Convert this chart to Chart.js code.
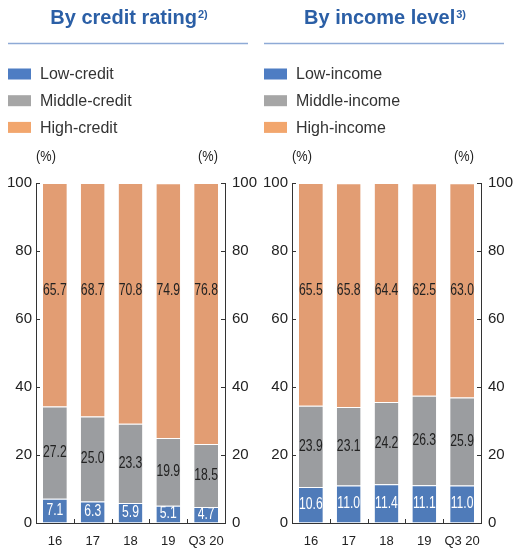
<!DOCTYPE html>
<html>
<head>
<meta charset="utf-8">
<script src="https://cdn.jsdelivr.net/npm/chart.js@4.4.1/dist/chart.umd.min.js"></script>
<style>
  html, body { margin: 0; padding: 0; background: #fff; }
  #wrap { position: relative; width: 516px; height: 555px; }
  canvas { position: absolute; top: 0; }
  #credit { left: 0; }
  #income { left: 256px; }
</style>
</head>
<body>
<div id="wrap">
  <canvas id="credit" width="260" height="555"></canvas>
  <canvas id="income" width="260" height="555"></canvas>
</div>
<script>
const years = ['16', '17', '18', '19', 'Q3 20'];

const lowCredit = [7.1, 6.3, 5.9, 5.1, 4.7];
const midCredit = [27.2, 25.0, 23.3, 19.9, 18.5];
const highCredit = [65.7, 68.7, 70.8, 74.9, 76.8];

const lowIncome = [10.6, 11.0, 11.4, 11.1, 11.0];
const midIncome = [23.9, 23.1, 24.2, 26.3, 25.9];
const highIncome = [65.5, 65.8, 64.4, 62.5, 63.0];

const SANS = "'Liberation Sans', Arial, sans-serif";

// bar colours / legend swatch colours
const BLUE = '#4f7bb9', GRAY = '#9b9da0', ORANGE = '#e29d73';
const BLUE_KEY = '#4e7dc3', GRAY_KEY = '#a6a6a6', ORANGE_KEY = '#f2a66d';

// no narrow font installed, so squeeze the small labels by hand
function narrowText(ctx, text, x, y, squeeze) {
    ctx.save();
    ctx.translate(x, y);
    ctx.scale(squeeze, 1);
    ctx.fillText(text, 0, 0);
    ctx.restore();
}

// title, rule, legend, (%) labels, inner ticks, value labels
const decor = {
    id: 'decor',
    afterDraw(chart, args, opts) {
        const ctx = chart.ctx;
        const area = chart.chartArea;
        const x = chart.scales.x, y = chart.scales.y;
        ctx.save();

        // title with superscript
        ctx.fillStyle = '#2b5fa6';
        ctx.font = 'bold 20px ' + SANS;
        const w1 = ctx.measureText(opts.title).width;
        ctx.font = 'bold 11px ' + SANS;
        const w2 = ctx.measureText(opts.note).width;
        const sx = 129 - (w1 + w2 + 1) / 2;
        ctx.textBaseline = 'alphabetic';
        ctx.textAlign = 'left';
        ctx.font = 'bold 20px ' + SANS;
        ctx.fillText(opts.title, sx, 24);
        ctx.font = 'bold 11px ' + SANS;
        ctx.fillText(opts.note, sx + w1 + 1, 18);

        // rule under title
        ctx.strokeStyle = '#8eaad6';
        ctx.lineWidth = 1.5;
        ctx.beginPath();
        ctx.moveTo(8, 43.5);
        ctx.lineTo(248, 43.5);
        ctx.stroke();

        // legend
        ctx.font = '16px ' + SANS;
        ctx.textBaseline = 'middle';
        chart.data.datasets.forEach((ds, i) => {
            const cy = 74 + i * 26.7;
            ctx.fillStyle = ds.keyColor;
            ctx.fillRect(8, cy - 5.5, 23, 11);
            ctx.fillStyle = '#333';
            ctx.fillText(ds.label, 40, cy + 1);
        });

        // unit labels
        ctx.font = '15px ' + SANS;
        ctx.fillStyle = '#222';
        ctx.textAlign = 'center';
        narrowText(ctx, '(%)', area.left + 10, 157, 0.85);
        narrowText(ctx, '(%)', area.right - 17, 157, 0.85);

        // inward tick marks
        ctx.strokeStyle = '#333';
        ctx.lineWidth = 1;
        ctx.beginPath();
        y.ticks.forEach(t => {
            const py = Math.round(y.getPixelForValue(t.value)) + 0.5;
            ctx.moveTo(area.left, py); ctx.lineTo(area.left + 4, py);
            ctx.moveTo(area.right - 4, py); ctx.lineTo(area.right, py);
        });
        for (let i = 1; i < years.length; i++) {
            const px = Math.round((x.getPixelForValue(i - 1) + x.getPixelForValue(i)) / 2) + 0.5;
            ctx.moveTo(px, area.bottom); ctx.lineTo(px, area.bottom - 4);
        }
        ctx.stroke();

        // value labels
        ctx.font = '16px ' + SANS;
        ctx.textBaseline = 'middle';
        ctx.textAlign = 'center';
        chart.data.datasets.forEach((ds, i) => {
            const meta = chart.getDatasetMeta(i);
            ctx.fillStyle = ds.textColor;
            meta.data.forEach((bar, j) => {
                const py = ds.labelAt != null ? y.getPixelForValue(ds.labelAt) : (bar.y + bar.base) / 2;
                narrowText(ctx, ds.data[j].toFixed(1), bar.x, py, 0.76);
            });
        });
        ctx.restore();
    }
};

function makeChart(id, title, note, names, low, mid, high) {
    const canvas = document.getElementById(id);
    return new Chart(canvas.getContext('2d'), {
        type: 'bar',
        data: {
            labels: years,
            datasets: [
                { label: names[0], data: low, backgroundColor: BLUE, keyColor: BLUE_KEY, textColor: '#fff' },
                { label: names[1], data: mid, backgroundColor: GRAY, keyColor: GRAY_KEY, textColor: '#222' },
                { label: names[2], data: high, backgroundColor: ORANGE, keyColor: ORANGE_KEY, textColor: '#222', labelAt: 68.5 }
            ].map(d => Object.assign(d, {
                categoryPercentage: 1,
                barPercentage: 0.63,
                borderWidth: { top: 1, left: 0, right: 0, bottom: 0 },
                borderColor: 'rgba(255,255,255,0.55)',
                borderSkipped: false
            }))
        },
        options: {
            responsive: false,
            animation: false,
            devicePixelRatio: 1,
            layout: { padding: { top: 183, left: 0, right: 0, bottom: 0 } },
            plugins: {
                legend: { display: false },
                tooltip: { enabled: false },
                decor: { title: title, note: note }
            },
            scales: {
                x: {
                    stacked: true,
                    grid: { display: true, drawOnChartArea: false, drawTicks: false },
                    border: { display: true, color: '#333', width: 1 },
                    ticks: { color: '#222', font: { family: SANS, size: 13 }, padding: 11, maxRotation: 0, autoSkip: false },
                    afterFit: s => { s.height = 32; }
                },
                y: {
                    stacked: true,
                    min: 0, max: 100,
                    grid: { display: true, drawOnChartArea: false, drawTicks: false },
                    border: { display: true, color: '#333', width: 1 },
                    ticks: { stepSize: 20, color: '#222', font: { family: SANS, size: 15 }, padding: 4 },
                    afterFit: s => { s.width = 36; }
                },
                y2: {
                    position: 'right',
                    min: 0, max: 100,
                    grid: { display: true, drawOnChartArea: false, drawTicks: false },
                    border: { display: true, color: '#333', width: 1 },
                    ticks: { stepSize: 20, color: '#222', font: { family: SANS, size: 15 }, padding: 7 },
                    afterFit: s => { s.width = 35; }
                }
            }
        },
        plugins: [decor]
    });
}

const creditChart = makeChart('credit', 'By credit rating', '2)',
    ['Low-credit', 'Middle-credit', 'High-credit'], lowCredit, midCredit, highCredit);
const incomeChart = makeChart('income', 'By income level', '3)',
    ['Low-income', 'Middle-income', 'High-income'], lowIncome, midIncome, highIncome);
</script>
</body>
</html>
